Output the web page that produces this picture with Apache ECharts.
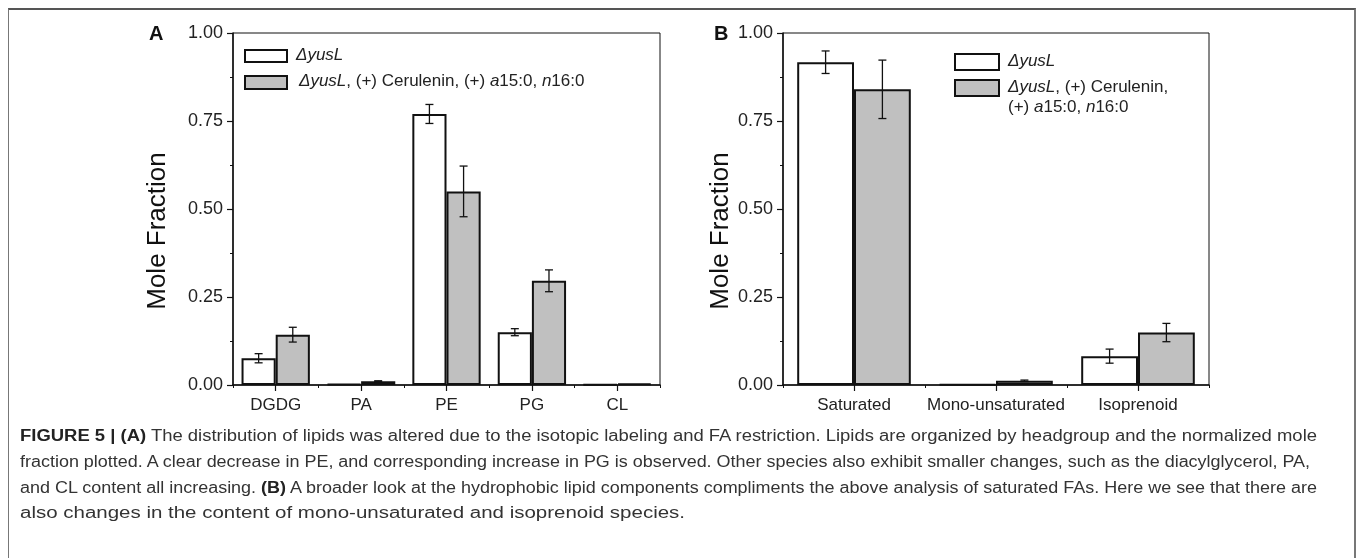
<!DOCTYPE html>
<html>
<head>
<meta charset="utf-8">
<script src="https://cdn.jsdelivr.net/npm/echarts@6/dist/echarts.min.js"></script>
<style>
  html, body { margin: 0; padding: 0; background: #fff; }
  #wrap { position: relative; width: 1358px; height: 558px; overflow: hidden; }
  #chart { position: absolute; left: 0; top: 0; width: 1358px; height: 558px; }
  #frame { position: absolute; left: 8px; top: 8px; width: 1345px; height: 600px;
           border-top: 2px solid #555; border-left: 1px solid #777; border-right: 2px solid #777; }
  .cap { position: absolute; left: 20px; white-space: nowrap; font-family: "Liberation Sans", Arial, sans-serif;
         font-size: 16px; color: #333; transform-origin: 0 50%; }
  .cap b { color: #222; }
</style>
</head>
<body>
<div id="wrap">
  <div id="frame"></div>
  <div id="chart"></div>
  <div class="cap" id="c1" style="top:427px"><b>FIGURE 5 | (A)</b> The distribution of lipids was altered due to the isotopic labeling and FA restriction. Lipids are organized by headgroup and the normalized mole</div>
  <div class="cap" id="c2" style="top:453px">fraction plotted. A clear decrease in PE, and corresponding increase in PG is observed. Other species also exhibit smaller changes, such as the diacylglycerol, PA,</div>
  <div class="cap" id="c3" style="top:479px">and CL content all increasing. <b>(B)</b> A broader look at the hydrophobic lipid components compliments the above analysis of saturated FAs. Here we see that there are</div>
  <div class="cap" id="c4" style="top:504px">also changes in the content of mono-unsaturated and isoprenoid species.</div>
</div>
<script>
// panel A: lipid headgroups
var catsA = ['DGDG', 'PA', 'PE', 'PG', 'CL'];
var yusA = [0.076, 0.003, 0.770, 0.150, 0.001];
var yusAErr = [0.013, 0.000, 0.027, 0.010, 0.000];
var ceruA = [0.143, 0.011, 0.550, 0.296, 0.004];
var ceruAErr = [0.021, 0.001, 0.072, 0.031, 0.000];

// panel B: hydrophobic components
var catsB = ['Saturated', 'Mono-unsaturated', 'Isoprenoid'];
var yusB = [0.917, 0.002, 0.082];
var yusBErr = [0.032, 0.000, 0.020];
var ceruB = [0.840, 0.012, 0.149];
var ceruBErr = [0.083, 0.002, 0.026];

var yTicks = [0, 0.25, 0.5, 0.75, 1.0];

var FONT = '"Liberation Sans", Arial, sans-serif';
var INK = '#111';

// stretch each caption line to the width it has in the figure
var capEnds = { c1: 1317, c2: 1310, c3: 1317, c4: 685 };
Object.keys(capEnds).forEach(function (id) {
  var el = document.getElementById(id);
  var s = (capEnds[id] - 20) / el.getBoundingClientRect().width;
  el.style.transform = 'scaleX(' + s + ')';
});

function errData(vals, errs, side) {
  return vals.map(function (v, i) { return [i, v, errs[i], side]; });
}

function renderErr(params, api) {
  var ci = api.value(0), v = api.value(1), e = api.value(2), side = api.value(3);
  if (!e) return null;
  var band = api.size([1, 0])[0];
  var x = api.coord([ci, v])[0] + side * band * 0.2;
  var y1 = api.coord([ci, v + e])[1];
  var y2 = api.coord([ci, v - e])[1];
  var cap = 4;
  var st = { stroke: INK, lineWidth: 1.3 };
  return {
    type: 'group',
    children: [
      { type: 'line', shape: { x1: x, y1: y1, x2: x, y2: y2 }, style: st },
      { type: 'line', shape: { x1: x - cap, y1: y1, x2: x + cap, y2: y1 }, style: st },
      { type: 'line', shape: { x1: x - cap, y1: y2, x2: x + cap, y2: y2 }, style: st }
    ]
  };
}

function yAxis(grid) {
  return {
    type: 'value', gridIndex: grid, min: 0, max: 1, interval: 0.25,
    axisLine: { show: true, lineStyle: { color: INK, width: 1.5 } },
    axisTick: { show: true, length: 6, lineStyle: { color: INK, width: 1.2 } },
    minorTick: { show: true, splitNumber: 2, length: 3, lineStyle: { color: INK } },
    splitLine: { show: false },
    axisLabel: { fontFamily: FONT, fontSize: 18, color: '#222', margin: 10,
      formatter: function (v) { return yTicks.indexOf(v) >= 0 ? v.toFixed(2) : ''; } }
  };
}

function xMain(grid, cats) {
  return {
    type: 'category', gridIndex: grid, data: cats,
    axisLine: { show: true, lineStyle: { color: INK, width: 1.5 } },
    axisTick: { show: true, alignWithLabel: true, length: 6, lineStyle: { color: INK, width: 1.2 } },
    axisLabel: { fontFamily: FONT, fontSize: 17, color: '#222', margin: 12, interval: 0 }
  };
}

function xMinor(grid, cats) {
  return {
    type: 'category', gridIndex: grid, data: cats, position: 'bottom',
    axisLine: { show: false },
    axisTick: { show: true, length: 3, lineStyle: { color: INK, width: 1 } },
    axisLabel: { show: false }
  };
}

function bar(name, x, y, vals, color) {
  return {
    name: name, type: 'bar', xAxisIndex: x, yAxisIndex: y, data: vals,
    barGap: '0%', barCategoryGap: '20%',
    itemStyle: { color: color, borderColor: INK, borderWidth: 2 },
    z: 2
  };
}

function err(x, y, vals, errs, side) {
  return {
    type: 'custom', xAxisIndex: x, yAxisIndex: y, z: 5,
    renderItem: renderErr, data: errData(vals, errs, side)
  };
}

function legendItem(x, y, w, h, fill, tx, text) {
  return [
    { type: 'rect', left: x, top: y, shape: { width: w, height: h },
      style: { fill: fill, stroke: INK, lineWidth: 2 } },
    { type: 'text', left: tx, top: y + h / 2 - 10,
      style: { text: text, font: '17px ' + FONT, fill: '#222', lineHeight: 20,
        rich: { i: { fontStyle: 'italic', fontFamily: FONT, fontSize: 17, fill: '#222' } } } }
  ];
}

var chart = echarts.init(document.getElementById('chart'), null, { renderer: 'canvas' });

chart.setOption({
  animation: false,
  grid: [
    { left: 233, top: 33, width: 427, height: 352, show: true, borderColor: INK, borderWidth: 1 },
    { left: 783, top: 33, width: 426, height: 352, show: true, borderColor: INK, borderWidth: 1 }
  ],
  xAxis: [xMain(0, catsA), xMinor(0, catsA), xMain(1, catsB), xMinor(1, catsB)],
  yAxis: [yAxis(0), yAxis(1)],
  series: [
    bar('\u0394yusL', 0, 0, yusA, '#ffffff'),
    bar('\u0394yusL, Cerulenin', 0, 0, ceruA, '#c0c0c0'),
    err(0, 0, yusA, yusAErr, -1),
    err(0, 0, ceruA, ceruAErr, 1),
    bar('\u0394yusL', 2, 1, yusB, '#ffffff'),
    bar('\u0394yusL, Cerulenin', 2, 1, ceruB, '#c0c0c0'),
    err(2, 1, yusB, yusBErr, -1),
    err(2, 1, ceruB, ceruBErr, 1)
  ],
  graphic: [].concat(
    [
      { type: 'text', left: 149, top: 24, style: { text: 'A', font: 'bold 20px ' + FONT, fill: '#111' } },
      { type: 'text', left: 714, top: 24, style: { text: 'B', font: 'bold 20px ' + FONT, fill: '#111' } },
      { type: 'text', x: 158, y: 231, rotation: Math.PI / 2,
        style: { text: 'Mole Fraction', font: '26px ' + FONT, fill: '#111', align: 'center', verticalAlign: 'middle' } },
      { type: 'text', x: 721, y: 231, rotation: Math.PI / 2,
        style: { text: 'Mole Fraction', font: '26px ' + FONT, fill: '#111', align: 'center', verticalAlign: 'middle' } }
    ],
    legendItem(244, 49, 42, 12, '#ffffff', 296, '{i|\u0394yusL}'),
    legendItem(244, 75, 42, 13, '#c0c0c0', 299, '{i|\u0394yusL}, (+) Cerulenin, (+) {i|a}15:0, {i|n}16:0'),
    legendItem(954, 53, 44, 16, '#ffffff', 1008, '{i|\u0394yusL}'),
    legendItem(954, 79, 44, 16, '#c0c0c0', 1008, '{i|\u0394yusL}, (+) Cerulenin,\n(+) {i|a}15:0, {i|n}16:0')
  )
});
</script>
</body>
</html>
